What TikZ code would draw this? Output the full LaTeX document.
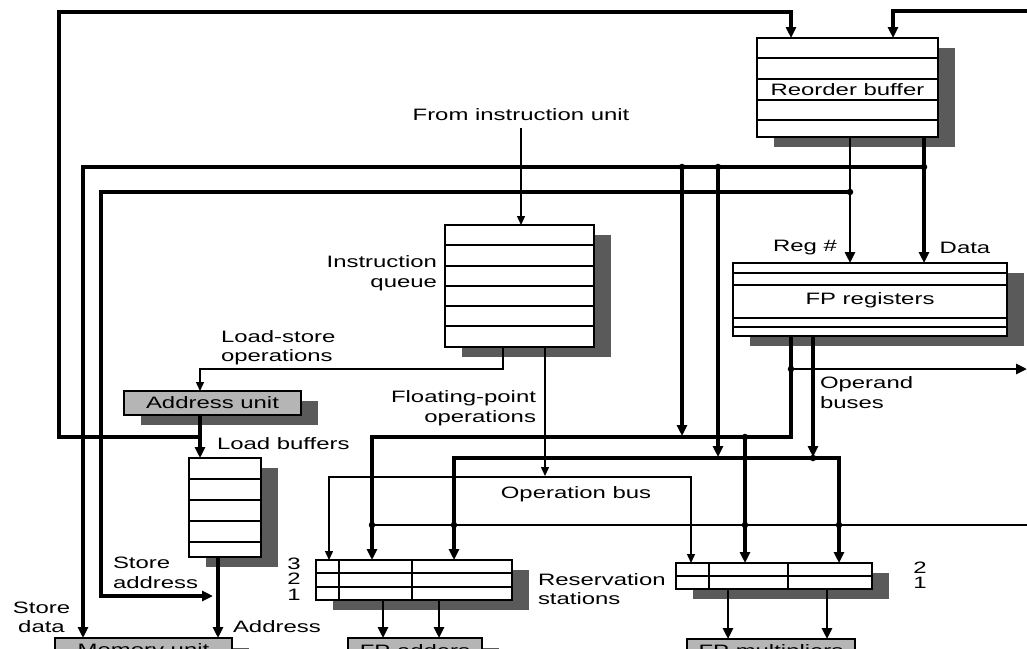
\documentclass[tikz,border=0pt]{standalone}
\usepackage{fontspec}
\setmainfont{Liberation Sans}[FakeStretch=1.45]
\usetikzlibrary{arrows.meta,shadows,calc}
\definecolor{boxgray}{HTML}{B5B5B5}
\definecolor{shgray}{HTML}{5A5A5A}
\begin{document}
\begin{tikzpicture}[x=1pt,y=-1pt,
  font=\fontsize{16.5}{19.5}\selectfont,
  every node/.style={inner sep=0pt, outer sep=0pt},
  box/.style={draw, line width=1.3pt, fill=white, rectangle,
    drop shadow={shadow xshift=17pt,shadow yshift=-10pt,fill=shgray,opacity=1}},
  gbox/.style={box, fill=boxgray},
  thk/.style={line width=3.2pt},
  med/.style={line width=2.9pt},
  thn/.style={line width=1.4pt},
  row/.style={line width=1.1pt},
  tipT/.style={-{Triangle[length=11pt,width=10pt]}},
  tipTT/.style={{Triangle[length=11pt,width=10pt]}-{Triangle[length=11pt,width=10pt]}},
  tipt/.style={-{Triangle[length=9pt,width=8pt]}},
  tiptt/.style={{Triangle[length=9pt,width=8pt]}-{Triangle[length=9pt,width=8pt]}},
  jdot/.style={circle, fill=black, minimum size=6.5pt}
]
\useasboundingbox (0,0) rectangle (1027,648);
\clip (0,0) rectangle (1027,648);

% ---- boxes ----
\node[box, minimum width=181pt, minimum height=99pt] (rob) at (847.5,87.5) {};
\node[box, minimum width=149pt, minimum height=122pt] (iq) at (519.5,286) {};
\node[box, minimum width=274pt, minimum height=73pt] (fpr) at (870,299.5) {};
\node[gbox, minimum width=177pt, minimum height=24pt] (addr) at (212.5,403) {Address unit};
\node[box, minimum width=72pt, minimum height=99pt] (lb) at (225,507.5) {};
\node[box, minimum width=196pt, minimum height=40pt] (rs1) at (414,580) {};
\node[box, minimum width=196pt, minimum height=26pt] (rs2) at (774,576) {};
\node[gbox, minimum width=177pt, minimum height=26pt] (mem) at (143.5,651) {Memory unit};
\node[gbox, minimum width=134pt, minimum height=26pt] (fpadd) at (415,651) {FP adders};
\node[gbox, minimum width=168pt, minimum height=26pt] (fpmul) at (771,652) {FP multipliers};

% ---- rows inside boxes ----
\foreach \yy in {58,79,100,120} \draw[row] (rob.west |- 0,\yy) -- (rob.east |- 0,\yy);
\foreach \yy in {245,266,286,306,326} \draw[row] (iq.west |- 0,\yy) -- (iq.east |- 0,\yy);
\foreach \yy in {273,285,318,327} \draw[row] (fpr.west |- 0,\yy) -- (fpr.east |- 0,\yy);
\foreach \yy in {479,500,521,542} \draw[row] (lb.west |- 0,\yy) -- (lb.east |- 0,\yy);
\foreach \yy in {573,587} \draw[row] (rs1.west |- 0,\yy) -- (rs1.east |- 0,\yy);
\foreach \xx in {339,412} \draw[row] (\xx,0 |- rs1.north) -- (\xx,0 |- rs1.south);
\draw[row] (rs2.west |- 0,576) -- (rs2.east |- 0,576);
\foreach \xx in {709,788} \draw[row] (\xx,0 |- rs2.north) -- (\xx,0 |- rs2.south);

% ---- labels ----
\node (robl) at (847.5,89.5) {Reorder buffer};
\node (fprl) at (870,300.5) {FP registers};
\node (fiu) at (521,115) {From instruction unit};
\node[align=right, anchor=east] (iql) at (437,273) {Instruction\\queue};
\node (regl) at (805,248) {Reg \#};
\node (datal) at (965,248) {Data};
\node[align=left, anchor=west] (lso) at (221,347.5) {Load-store\\operations};
\node[align=right, anchor=east] (fpo) at (536,408) {Floating-point\\operations};
\node[anchor=west] (lbl) at (217,444) {Load buffers};
\node (opb) at (576,494) {Operation bus};
\node[align=left, anchor=west] (rsl) at (538,589) {Reservation\\stations};
\node[align=left, anchor=west] (sal) at (113,573) {Store\\address};
\node[align=center] (sdl) at (41.5,617.5) {Store\\data};
\node[anchor=west] (adl) at (233,627) {Address};
\node[align=left, anchor=west] (obl) at (820,392.5) {Operand\\buses};
\node (n3) at (294,564) {3};
\node (n2a) at (294,579) {2};
\node (n1a) at (294,595) {1};
\node (n2b) at (920,568) {2};
\node (n1b) at (920,583) {1};

% ---- free ends ----
\coordinate (jA) at (200,437);
\coordinate (e1) at (1027,11);
\coordinate (e2) at (1027,369);
\coordinate (e3) at (1027,525);

% ---- connectors ----
\draw[thk,tipT] (jA) -| (59,12) -| (791,0 |- rob.north);
\draw[thk,tipT] (e1) -| (893,0 |- rob.north);
\draw[med,tipT] (850,0 |- rob.south) -- (850,0 |- fpr.north);
\draw[thk,tipT] (924,0 |- rob.south) -- (924,0 |- fpr.north);
\draw[thk,tipT] (924,167) -| (83,0 |- mem.north);
\draw[thk,tipT] (850,192) -| (101,596) -- (213,596);
\node[jdot] at (924,167) {};
\node[jdot] at (850,192) {};
\draw[thk,tipT] (682,167) -- (682,436);
\draw[thk,tipT] (718,167) -- (718,457);
\node[jdot] at (682,167) {};
\node[jdot] at (718,167) {};

\draw[thn,tipt] ([yshift=-7pt]fiu.south) -- (fiu.south |- iq.north);
\draw[thn,tipt] (503,0 |- iq.south) |- (200,369) -- (200,0 |- addr.north);
\draw[thn,tipt] (545,0 |- iq.south) -- (545,476);
\draw[thn,tiptt] (329,0 |- rs1.north) |- (691,477) -- (691,0 |- rs2.north);

\draw[thk,tipT] (200,0 |- addr.south) -- (200,0 |- lb.north);
\draw[thk,tipT] (218,0 |- lb.south) -- (218,0 |- mem.north);

\draw[thk,tipT] (791,0 |- fpr.south) |- (372,437) -- (372,0 |- rs1.north);
\draw[med,tipT] (791,369) -- (e2);
\node[jdot] at (791,369) {};
\draw[thk,tipT] (813,0 |- fpr.south) -- (813,457);
\node[jdot] at (813,458) {};
\draw[thk,tipT] (745,437) -- (745,0 |- rs2.north);
\node[jdot] at (745,437) {};
\draw[thk,tipTT] (454,0 |- rs1.north) |- (839,458) -- (839,0 |- rs2.north);
\draw[med] (372,525) -- (e3);
\foreach \xx in {372,454,745,839} \node[jdot] at (\xx,525) {};

\draw[med,tipT] (383,0 |- rs1.south) -- (383,0 |- fpadd.north);
\draw[med,tipT] (439,0 |- rs1.south) -- (439,0 |- fpadd.north);
\draw[med,tipT] (728,0 |- rs2.south) -- (728,0 |- fpmul.north);
\draw[med,tipT] (827,0 |- rs2.south) -- (827,0 |- fpmul.north);
\end{tikzpicture}
\end{document}
